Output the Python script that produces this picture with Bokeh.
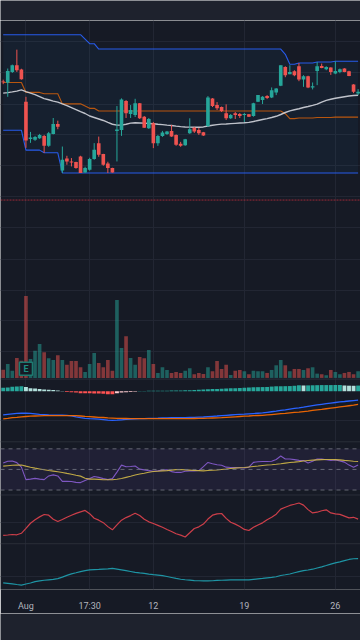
from bokeh.plotting import figure
from bokeh.layouts import column
from bokeh.models import Range1d, ColumnDataSource, FixedTicker, Span, BoxAnnotation
from bokeh.core.properties import value
from bokeh.embed import file_html
from bokeh.resources import INLINE

# ---------------- data ----------------
OPEN = [128.7, 127.3, 138.3, 145.0, 140.7, 108.3, 71.0, 70.0, 71.7, 74.0,
        64.0, 76.0, 86.0, 39.3, 51.3, 48.3, 47.7, 53.3, 37.3, 40.0,
        50.7, 66.7, 55.7, 46.3, 41.7, 79.0, 80.0, 109.0, 96.0, 95.0,
        106.7, 93.3, 81.7, 86.7, 66.7, 74.0, 76.0, 79.0, 75.0, 66.0,
        64.7, 76.7, 82.3, 80.0, 77.7, 84.0, 111.7, 105.0, 103.0, 96.7,
        91.7, 96.7, 96.0, 95.0, 95.7, 94.0, 108.3, 110.0, 114.0, 112.7,
        117.7, 124.3, 143.3, 136.0, 139.0, 144.0, 130.7, 134.0, 122.7, 139.3,
        144.3, 141.0, 142.7, 136.7, 138.3, 141.7, 139.0, 125.7, 116.7]
HIGH = [130.5, 141.7, 145.7, 160.7, 141.5, 113.3, 78.0, 74.0, 76.0, 75.0,
        78.0, 92.0, 89.3, 63.3, 54.0, 51.7, 48.0, 54.0, 43.0, 52.0,
        66.7, 73.3, 56.0, 48.0, 42.0, 104.0, 111.7, 110.0, 105.0, 111.3,
        107.0, 94.0, 92.0, 88.0, 75.0, 79.0, 79.0, 85.0, 75.5, 68.0,
        71.0, 91.7, 83.0, 82.0, 78.0, 114.0, 112.0, 108.0, 103.5, 105.7,
        96.0, 98.0, 97.0, 97.0, 96.0, 107.3, 115.0, 114.0, 115.0, 122.7,
        122.0, 145.0, 144.0, 145.0, 140.0, 147.3, 135.0, 134.5, 127.7, 148.3,
        146.7, 144.0, 143.0, 149.0, 141.7, 142.0, 139.5, 126.0, 121.0]
LOW = [126.0, 113.3, 137.3, 138.3, 130.5, 62.0, 67.0, 69.0, 71.0, 57.0,
       63.0, 75.5, 80.7, 36.7, 45.0, 43.3, 41.0, 36.7, 37.0, 39.0,
       50.0, 53.0, 44.0, 36.7, 37.0, 48.3, 74.0, 92.0, 92.0, 93.0,
       91.0, 82.0, 81.0, 61.7, 64.0, 73.0, 75.0, 73.0, 64.0, 63.0,
       64.0, 76.0, 77.0, 75.0, 74.0, 83.0, 103.0, 100.0, 98.0, 90.0,
       91.0, 91.0, 92.0, 88.0, 93.0, 93.3, 108.0, 106.0, 111.0, 112.0,
       115.0, 124.0, 133.0, 136.0, 134.0, 129.0, 123.3, 122.0, 120.7, 125.0,
       142.0, 140.0, 135.3, 136.0, 137.0, 138.0, 134.0, 117.0, 115.0]
CLOSE = [128.0, 139.3, 145.0, 140.0, 131.0, 69.3, 72.5, 73.0, 75.0, 64.0,
         76.7, 86.0, 83.3, 50.0, 48.3, 47.3, 41.7, 36.7, 41.7, 50.7,
         60.0, 55.0, 45.0, 41.7, 37.3, 80.3, 110.7, 96.7, 100.0, 106.7,
         91.7, 82.3, 91.0, 66.7, 74.0, 77.3, 78.3, 73.3, 65.0, 64.0,
         70.7, 80.7, 78.3, 76.7, 74.3, 112.7, 104.0, 101.7, 99.0, 91.7,
         95.0, 95.0, 94.0, 96.0, 93.3, 106.7, 115.0, 113.3, 112.0, 120.0,
         121.7, 145.0, 135.0, 138.3, 135.0, 130.7, 134.0, 122.7, 124.0, 144.0,
         142.3, 143.3, 138.3, 139.3, 141.0, 138.3, 134.3, 118.3, 118.3]
VOLUME = [83, 140, 73, 200, 173, 823, 190, 273, 340, 257,
          197, 180, 227, 180, 133, 170, 170, 107, 60, 140,
          250, 150, 107, 180, 73, 783, 300, 420, 200, 133,
          210, 197, 280, 140, 50, 107, 80, 50, 60, 50,
          73, 97, 37, 50, 40, 107, 67, 170, 90, 133,
          30, 73, 80, 67, 37, 73, 67, 67, 50, 80,
          127, 180, 127, 67, 90, 90, 80, 97, 107, 43,
          37, 27, 80, 60, 37, 50, 60, 37, 67]
DC_UPPER = [175.7, 175.7, 175.7, 175.7, 175.7, 175.7, 175.7, 175.7, 175.7, 175.7,
            175.7, 175.7, 175.7, 175.7, 175.7, 175.7, 175.7, 175.7, 171.2, 166.7,
            166.7, 161.3, 161.3, 161.3, 161.3, 161.3, 161.3, 161.3, 161.3, 161.3,
            161.3, 161.3, 161.3, 161.3, 161.3, 161.3, 161.3, 161.3, 161.3, 161.3,
            161.3, 161.3, 161.3, 161.3, 161.3, 161.3, 161.3, 161.3, 161.3, 161.3,
            161.3, 161.3, 161.3, 161.3, 161.3, 161.3, 161.3, 161.3, 161.3, 161.3,
            161.3, 161.3, 156.0, 146.0, 146.0, 147.3, 147.3, 147.3, 147.3, 148.3,
            148.3, 148.3, 148.3, 149.0, 149.0, 149.0, 149.0, 149.0, 149.0]
DC_LOWER = [79.7, 79.7, 79.7, 79.7, 79.7, 59.7, 59.7, 59.7, 59.7, 57.0,
            57.0, 57.0, 57.0, 36.7, 36.7, 36.7, 36.7, 36.7, 36.7, 36.7,
            36.7, 36.7, 36.7, 36.7, 36.7, 36.7, 36.7, 36.7, 36.7, 36.7,
            36.7, 36.7, 36.7, 36.7, 36.7, 36.7, 36.7, 36.7, 36.7, 36.7,
            36.7, 36.7, 36.7, 36.7, 36.7, 36.7, 36.7, 36.7, 36.7, 36.7,
            36.7, 36.7, 36.7, 36.7, 36.7, 36.7, 36.7, 36.7, 36.7, 36.7,
            36.7, 36.7, 36.7, 36.7, 36.7, 36.7, 36.7, 36.7, 36.7, 36.7,
            36.7, 36.7, 36.7, 36.7, 36.7, 36.7, 36.7, 36.7, 36.7]
MA_LINE = [117.0, 117.5, 118.2, 119.0, 120.3, 118.5, 117.0, 115.5, 113.5, 111.5,
           110.3, 109.0, 108.0, 106.2, 104.5, 102.5, 100.5, 98.3, 96.5, 94.0,
           92.5, 91.0, 89.5, 87.5, 85.7, 84.8, 84.8, 85.7, 86.8, 87.2,
           87.0, 86.8, 86.5, 86.2, 85.7, 85.3, 84.8, 84.4, 83.8, 83.3,
           83.0, 82.8, 82.7, 82.7, 83.0, 84.0, 84.7, 85.3, 85.8, 86.0,
           86.3, 86.6, 86.9, 87.2, 87.6, 88.5, 89.5, 90.5, 91.4, 92.5,
           93.7, 95.5, 97.5, 99.2, 100.3, 101.3, 102.5, 103.5, 104.7, 106.0,
           108.0, 109.7, 110.8, 111.8, 112.6, 113.4, 114.1, 114.6, 114.9]
PRICE_LEVEL = [9.5]
EARNINGS_BAR = [5]

MACD = [-2.38, -2.33, -2.28, -2.23, -2.20, -2.21, -2.23, -2.28, -2.33, -2.36,
        -2.39, -2.40, -2.40, -2.41, -2.43, -2.48, -2.58, -2.66, -2.73, -2.76,
        -2.78, -2.80, -2.85, -2.91, -2.93, -2.91, -2.87, -2.83, -2.80, -2.78,
        -2.76, -2.75, -2.73, -2.72, -2.71, -2.69, -2.67, -2.66, -2.66, -2.66,
        -2.65, -2.64, -2.63, -2.61, -2.59, -2.55, -2.52, -2.49, -2.45, -2.42,
        -2.39, -2.36, -2.33, -2.31, -2.27, -2.24, -2.21, -2.18, -2.12, -2.06,
        -2.00, -1.93, -1.87, -1.80, -1.73, -1.67, -1.60, -1.52, -1.45, -1.38,
        -1.31, -1.25, -1.19, -1.13, -1.07, -1.03, -0.98, -0.94, -0.90]
SIGNAL = [-2.78, -2.73, -2.66, -2.62, -2.57, -2.54, -2.51, -2.49, -2.47, -2.46,
          -2.46, -2.46, -2.46, -2.46, -2.46, -2.46, -2.46, -2.49, -2.53, -2.56,
          -2.59, -2.62, -2.64, -2.68, -2.70, -2.72, -2.73, -2.74, -2.75, -2.76,
          -2.76, -2.76, -2.76, -2.76, -2.76, -2.76, -2.76, -2.76, -2.76, -2.76,
          -2.75, -2.75, -2.74, -2.73, -2.73, -2.71, -2.69, -2.67, -2.66, -2.63,
          -2.60, -2.57, -2.54, -2.51, -2.49, -2.46, -2.44, -2.42, -2.38, -2.34,
          -2.30, -2.26, -2.22, -2.17, -2.13, -2.09, -2.04, -1.99, -1.93, -1.88,
          -1.83, -1.76, -1.70, -1.64, -1.58, -1.52, -1.46, -1.40, -1.33]
HIST = [0.35, 0.37, 0.45, 0.48, 0.50, 0.43, 0.30, 0.27, 0.23, 0.17,
        0.15, 0.13, 0.07, 0.03, -0.07, -0.10, -0.13, -0.19, -0.20, -0.21,
        -0.22, -0.23, -0.24, -0.29, -0.31, -0.20, -0.13, -0.10, -0.07, -0.05,
        0.02, 0.03, 0.04, 0.04, 0.05, 0.06, 0.06, 0.07, 0.07, 0.08,
        0.10, 0.11, 0.13, 0.15, 0.17, 0.20, 0.22, 0.23, 0.24, 0.27,
        0.30, 0.31, 0.33, 0.34, 0.37, 0.40, 0.41, 0.42, 0.43, 0.47,
        0.50, 0.50, 0.51, 0.52, 0.55, 0.60, 0.58, 0.59, 0.60, 0.61,
        0.62, 0.62, 0.62, 0.63, 0.63, 0.58, 0.56, 0.55, 0.57]

RSI = [56.3, 58.0, 58.2, 56.6, 52.2, 40.1, 40.6, 41.3, 40.6, 40.1,
       43.7, 44.7, 43.7, 38.4, 38.4, 38.3, 37.4, 37.2, 39.2, 41.1,
       43.2, 42.3, 41.1, 40.1, 41.1, 47.4, 54.2, 52.6, 52.9, 53.4,
       50.3, 49.6, 48.8, 48.2, 48.7, 49.3, 49.6, 47.9, 47.1, 47.1,
       48.2, 48.6, 48.6, 48.9, 52.7, 56.8, 55.6, 54.6, 54.0, 52.2,
       51.9, 51.9, 51.7, 51.4, 52.2, 56.9, 57.4, 57.7, 57.7, 58.0,
       59.7, 63.0, 60.2, 60.2, 59.5, 58.8, 58.7, 56.3, 58.0, 60.2,
       60.0, 59.4, 58.7, 59.2, 58.3, 57.1, 54.2, 52.2, 54.2]
RSI_MA = [53.2, 53.6, 54.0, 54.2, 54.3, 53.2, 52.2, 51.3, 50.5, 49.7,
          48.9, 48.4, 47.8, 47.1, 46.2, 45.4, 44.3, 43.5, 41.5, 40.6,
          40.6, 40.3, 40.0, 40.0, 40.0, 40.4, 41.2, 42.3, 43.4, 44.6,
          45.5, 46.3, 47.2, 48.0, 48.3, 48.6, 48.8, 49.3, 49.8, 50.0,
          49.6, 49.3, 49.0, 48.8, 48.6, 48.9, 49.2, 49.5, 50.0, 50.4,
          50.9, 51.3, 51.6, 51.9, 52.4, 52.9, 53.3, 53.8, 54.3, 54.6,
          55.0, 55.5, 56.1, 56.7, 57.1, 57.6, 58.2, 58.7, 59.0, 59.3,
          59.5, 59.6, 59.7, 59.5, 59.3, 58.8, 58.4, 58.0, 57.7]
RSI_LEVELS = [70, 50, 30]

OSC_RED = [17.0, 17.6, 18.6, 18.0, 21.0, 31.0, 41.2, 48.4, 54.0, 58.8,
           57.4, 49.2, 44.6, 48.6, 53.4, 57.4, 61.0, 64.2, 67.0, 60.4,
           51.2, 47.4, 42.4, 34.4, 28.0, 38.0, 47.4, 52.6, 56.6, 61.4,
           56.6, 49.4, 44.0, 40.6, 37.0, 33.2, 28.6, 24.6, 20.0, 17.4,
           13.6, 22.0, 30.6, 34.0, 39.6, 49.6, 57.4, 60.0, 60.8, 51.0,
           43.2, 39.4, 34.8, 28.8, 26.6, 33.2, 37.6, 42.0, 48.4, 53.2,
           59.4, 69.6, 73.4, 77.0, 79.4, 82.0, 77.6, 68.6, 62.0, 63.4,
           66.4, 68.2, 62.0, 60.0, 59.0, 55.6, 52.0, 53.2, 49.4]
OSC_CYAN = [29.4, 28.4, 27.4, 26.0, 24.8, 27.0, 29.0, 31.8, 33.2, 34.6,
            35.4, 36.2, 38.0, 41.0, 44.4, 47.4, 49.6, 52.0, 54.0, 55.4,
            56.0, 56.4, 57.0, 57.6, 58.6, 57.0, 55.4, 53.8, 52.2, 50.6,
            49.4, 48.4, 47.0, 45.8, 44.8, 43.8, 42.2, 40.2, 38.2, 36.6,
            35.6, 34.8, 34.0, 33.6, 33.4, 33.4, 33.6, 34.2, 34.6, 35.0,
            35.4, 35.4, 35.4, 35.4, 35.4, 36.4, 37.4, 38.2, 39.2, 40.2,
            41.6, 44.2, 45.6, 47.2, 49.6, 51.8, 53.8, 55.2, 56.8, 59.2,
            61.6, 64.2, 67.0, 69.6, 71.6, 74.0, 76.4, 77.8, 78.0]

TICK_POS = [5, 19, 33, 53, 73]
TICK_LABELS = ["Aug", "17:30", "12", "19", "26"]

# ---------------- layout / style ----------------
BG = "#161a25"
BAND_BG = "#1e222d"
GRID = "#222633"
SEP = "#2a2e39"
UP, DOWN = "#26a69a", "#ef5350"

FRAME_TOP, FRAME_BOTTOM = 20, 592          # page pixels of the chart frame
GRID_Y = [41, 72, 104, 135, 166, 197, 228, 260, 291, 322, 353, 422, 524.5, 579]
SEPARATORS_Y = [380.5, 443.5, 497, 546]
EVENT_ROW_Y = 370


def pane_range(px_a, v_a, px_b, v_b):
    k = (v_b - v_a) / (px_b - px_a)
    return Range1d(start=v_a + k * (FRAME_BOTTOM - px_a), end=v_a + k * (FRAME_TOP - px_a))


def band(h):
    f = figure(width=360, height=h, toolbar_location=None, output_backend="svg",
               min_border=0, x_axis_location=None, y_axis_location=None,
               background_fill_color=BAND_BG, border_fill_color=BAND_BG,
               outline_line_color=None, x_range=Range1d(0, 1), y_range=Range1d(0, 1))
    f.grid.visible = False
    return f


N = len(CLOSE)
IDX = list(range(N))

p = figure(width=360, height=593, x_range=Range1d(-0.593, 78.527),
           y_range=Range1d(FRAME_BOTTOM, FRAME_TOP),
           toolbar_location=None, output_backend="svg",
           min_border_left=0, min_border_right=0, min_border_top=0, min_border_bottom=21,
           y_axis_location=None, background_fill_color=BG, border_fill_color=BG,
           outline_line_color=None)

p.extra_y_ranges = {
    "price": pane_range(20, 190, 381, -171),
    "vol": pane_range(379.3, 0, 20, 3593),
    "macd": pane_range(392.7, 0, 422.7, -3),
    "rsi": pane_range(450.6, 70, 492, 30),
    "red": pane_range(546, 0, 496, 100),
    "cyan": pane_range(600, 0, 550, 100),
}

# grids & axis
p.xgrid.ticker = FixedTicker(ticks=TICK_POS)
p.ygrid.ticker = FixedTicker(ticks=GRID_Y)
p.grid.grid_line_color = GRID
p.grid.grid_line_width = 1
p.xaxis.ticker = FixedTicker(ticks=TICK_POS)
p.xaxis.major_label_overrides = {t: s for t, s in zip(TICK_POS, TICK_LABELS)}
p.xaxis.axis_line_color = None
p.xaxis.major_tick_line_color = None
p.xaxis.minor_tick_line_color = None
p.xaxis.major_label_standoff = 5
p.xaxis.major_label_text_color = "#b2b5be"
p.xaxis.major_label_text_font = "Roboto"
p.xaxis.major_label_text_font_size = "9px"

for y in SEPARATORS_Y:
    p.add_layout(Span(location=y, dimension="width", line_color=SEP, line_width=1))

# ---- price pane ----
up = [c >= o for o, c in zip(OPEN, CLOSE)]
body_bottom = [min(o, c) for o, c in zip(OPEN, CLOSE)]
body_top = [max(max(o, c), b + 0.8) for o, c, b in zip(OPEN, CLOSE, body_bottom)]
src = ColumnDataSource(dict(x=IDX, top=body_top, bottom=body_bottom, high=HIGH, low=LOW,
                            vol=VOLUME, color=[UP if u else DOWN for u in up]))

DC_BASIS = [(u + l) / 2 for u, l in zip(DC_UPPER, DC_LOWER)]
p.varea(x=IDX, y1=DC_LOWER, y2=DC_UPPER, fill_color="#2196f3", fill_alpha=0.05,
        y_range_name="price")
p.vbar(x="x", top="vol", bottom=0, width=0.8, fill_color="color", fill_alpha=0.5,
       line_color=None, source=src, y_range_name="vol")
p.line(IDX, DC_UPPER, line_color="#2962ff", line_width=1.1, line_alpha=0.9, y_range_name="price")
p.line(IDX, DC_LOWER, line_color="#2962ff", line_width=1.1, line_alpha=0.9, y_range_name="price")
p.line(IDX, DC_BASIS, line_color="#ff6d00", line_width=1.1, line_alpha=0.7, y_range_name="price")
p.line(IDX, MA_LINE, line_color="#d1d4dc", line_width=1.4, line_alpha=0.9, y_range_name="price")
p.segment(x0="x", y0="low", x1="x", y1="high", line_color="color", line_width=1,
          source=src, y_range_name="price")
p.vbar(x="x", top="top", bottom="bottom", width=0.8, fill_color="color",
       line_color=None, source=src, y_range_name="price")
p.add_layout(Span(location=PRICE_LEVEL[0], dimension="width", y_range_name="price",
                  line_color="#f23645", line_alpha=0.6, line_dash="2 1", line_width=1))

# earnings marker
p.scatter(x=EARNINGS_BAR, y=[EVENT_ROW_Y] * len(EARNINGS_BAR), marker="square", size=13,
          fill_color=BG, line_color="#1d7a70", line_width=1.5)
p.text(x=EARNINGS_BAR, y=[EVENT_ROW_Y] * len(EARNINGS_BAR), text=["E"] * len(EARNINGS_BAR),
       text_align="center", text_baseline="middle", text_color="#1d8f82",
       text_font=value("Roboto"), text_font_size="9px", text_font_style="bold")

# ---- MACD pane ----
hist_colors = []
for k, h in enumerate(HIST):
    prev = HIST[k - 1] if k else h
    if h >= 0:
        hist_colors.append("#26a69a" if h >= prev else "#b2dfdb")
    else:
        hist_colors.append("#ffcdd2" if h >= prev else "#ff5252")
p.vbar(x=IDX, top=HIST, bottom=0, width=0.85, fill_color=hist_colors, line_color=None,
       y_range_name="macd")
p.line(IDX, MACD, line_color="#2962ff", line_width=1.3, y_range_name="macd")
p.line(IDX, SIGNAL, line_color="#ff6d00", line_width=1.3, line_alpha=0.9, y_range_name="macd")

# ---- RSI pane ----
p.add_layout(BoxAnnotation(bottom=RSI_LEVELS[2], top=RSI_LEVELS[0], y_range_name="rsi",
                           fill_color="#7e57c2", fill_alpha=0.1, line_color=None))
for lvl in RSI_LEVELS:
    p.add_layout(Span(location=lvl, dimension="width", y_range_name="rsi",
                      line_color="#787b86", line_alpha=0.8, line_dash="4 4", line_width=1))
p.line(IDX, RSI, line_color="#7e57c2", line_width=1.1, y_range_name="rsi")
p.line(IDX, RSI_MA, line_color="#d9c23a", line_width=1.1, line_alpha=0.9, y_range_name="rsi")

# ---- oscillator panes ----
p.line(IDX, OSC_RED, line_color="#e0434e", line_width=1.2, line_alpha=0.9, y_range_name="red")
p.line(IDX, OSC_CYAN, line_color="#1fa2b2", line_width=1.2, line_alpha=0.9, y_range_name="cyan")

layout = column(band(20), p, band(27), spacing=0)
open("out.html", "w").write(file_html(layout, INLINE))
